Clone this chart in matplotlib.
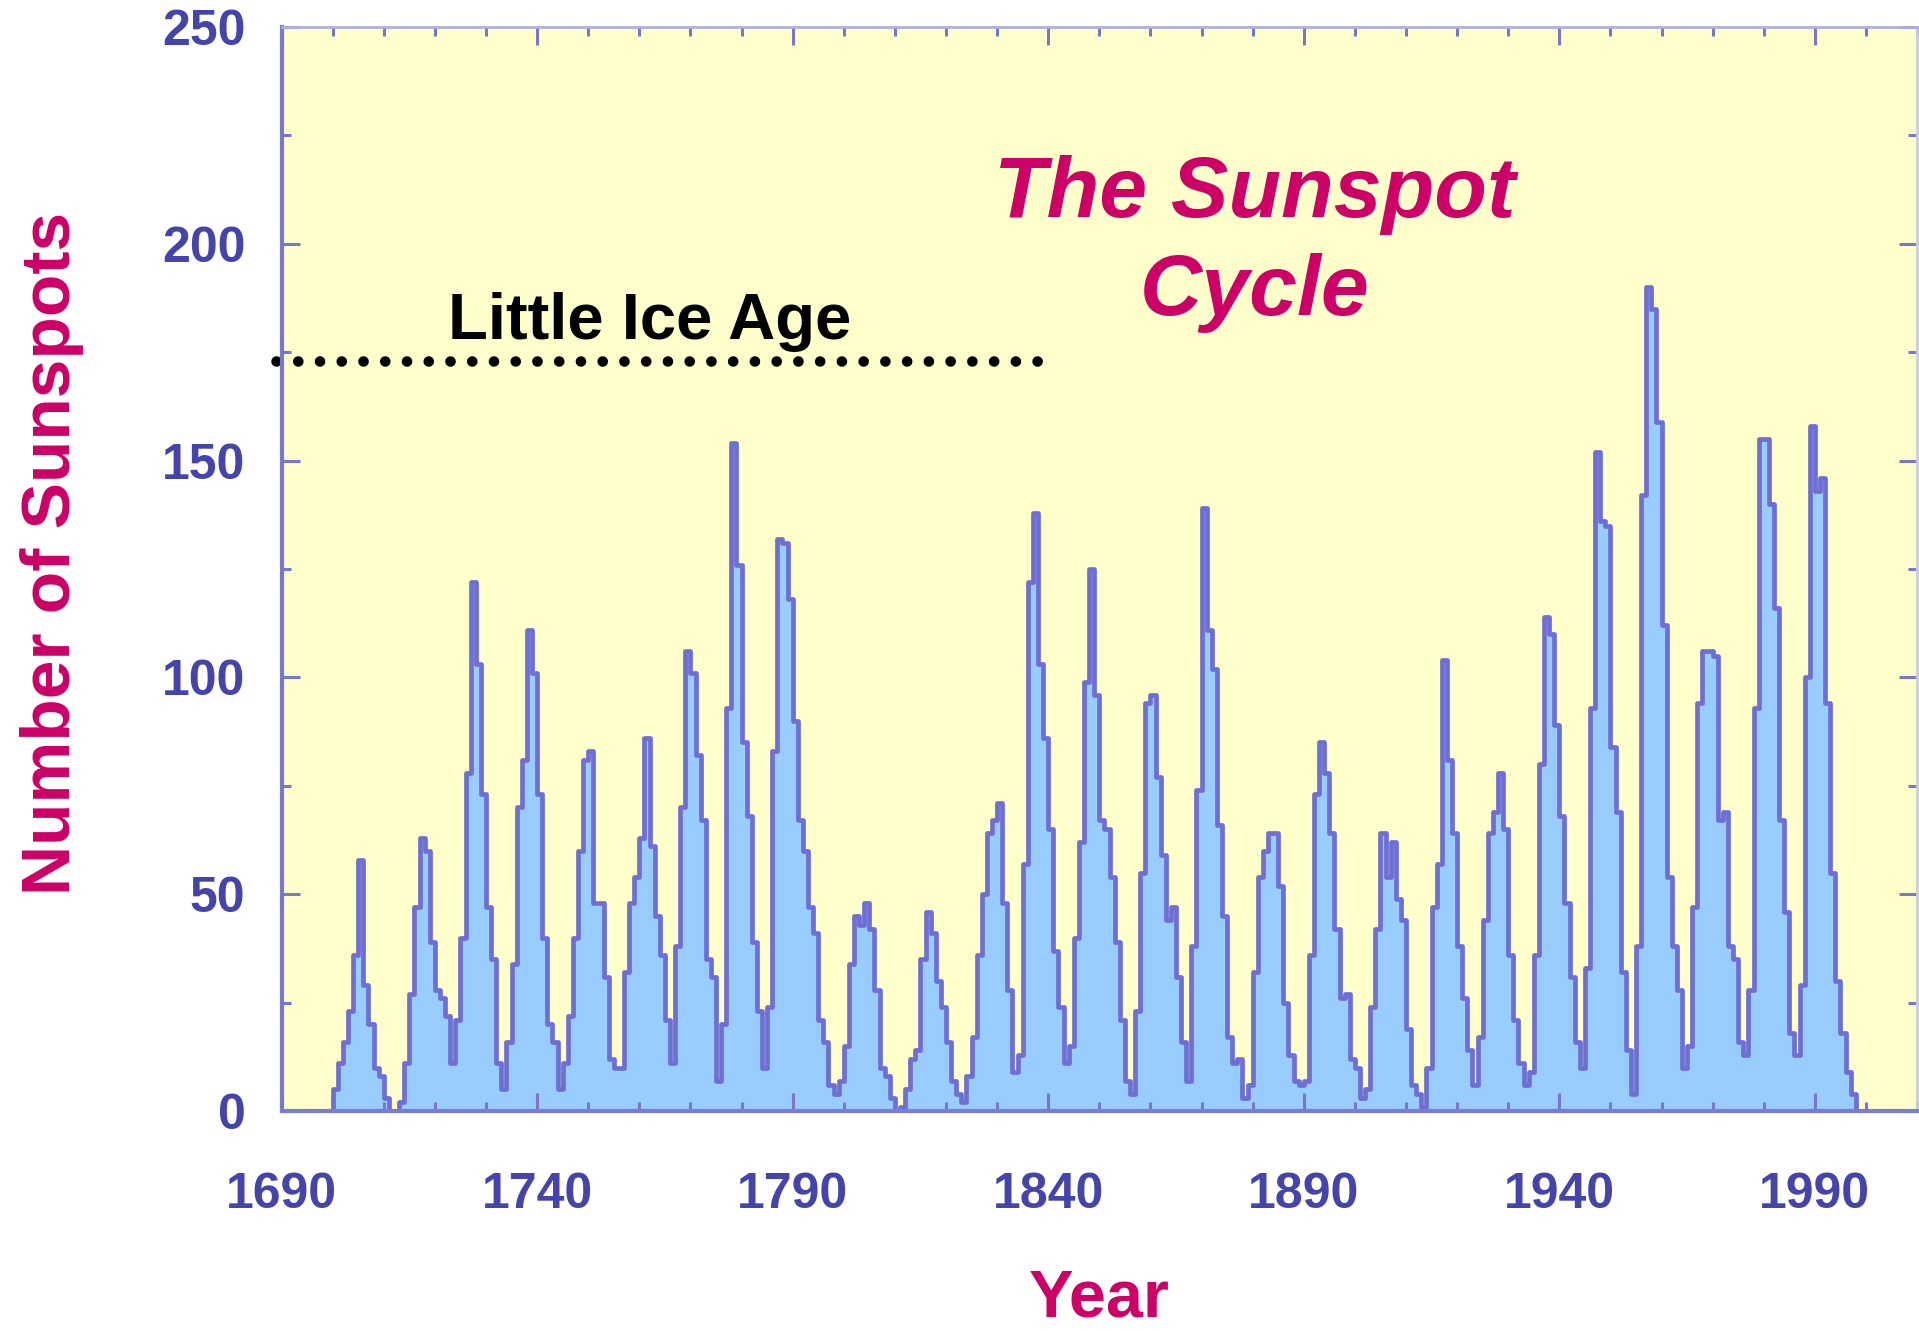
import numpy as np
import matplotlib
matplotlib.use("Agg")
from matplotlib import pyplot as plt
from matplotlib.ticker import MultipleLocator

# yearly mean sunspot numbers, one row per decade, starting 1700
sunspots = [
    5, 11, 16, 23, 36, 58, 29, 20, 10, 8,
    3, 0, 0, 2, 11, 27, 47, 63, 60, 39,
    28, 26, 22, 11, 21, 40, 78, 122, 103, 73,
    47, 35, 11, 5, 16, 34, 70, 81, 111, 101,
    73, 40, 20, 16, 5, 11, 22, 40, 60, 81,
    83, 48, 48, 31, 12, 10, 10, 32, 48, 54,
    63, 86, 61, 45, 36, 21, 11, 38, 70, 106,
    101, 82, 67, 35, 31, 7, 20, 93, 154, 126,
    85, 68, 39, 23, 10, 24, 83, 132, 131, 118,
    90, 67, 60, 47, 41, 21, 16, 6, 4, 7,
    15, 34, 45, 43, 48, 42, 28, 10, 8, 3,
    0, 1, 5, 12, 14, 35, 46, 41, 30, 24,
    16, 7, 4, 2, 8, 17, 36, 50, 64, 67,
    71, 48, 28, 9, 13, 57, 122, 138, 103, 86,
    65, 37, 24, 11, 15, 40, 62, 99, 125, 96,
    67, 65, 54, 39, 21, 7, 4, 23, 55, 94,
    96, 77, 59, 44, 47, 31, 16, 7, 38, 74,
    139, 111, 102, 66, 45, 17, 11, 12, 3, 6,
    32, 54, 60, 64, 64, 52, 25, 13, 7, 6,
    7, 36, 73, 85, 78, 64, 42, 26, 27, 12,
    10, 3, 5, 24, 42, 64, 54, 62, 49, 44,
    19, 6, 4, 1, 10, 47, 57, 104, 81, 64,
    38, 26, 14, 6, 17, 44, 64, 69, 78, 65,
    36, 21, 11, 6, 9, 36, 80, 114, 110, 89,
    68, 48, 31, 16, 10, 33, 93, 152, 136, 135,
    84, 69, 32, 14, 4, 38, 142, 190, 185, 159,
    112, 54, 38, 28, 10, 15, 47, 94, 106, 106,
    105, 67, 69, 38, 35, 16, 13, 28, 93, 155,
    155, 140, 116, 67, 46, 18, 13, 29, 100, 158,
    143, 146, 94, 55, 30, 18, 9, 4,
]
first_year = 1700
years = np.arange(first_year, first_year + len(sunspots))

x_ticks = [1690, 1740, 1790, 1840, 1890, 1940, 1990]
y_ticks = [0, 50, 100, 150, 200, 250]

ice_age_start, ice_age_end = 1689, 1839.5
ice_age_level = 173

magenta = "#cc0066"
label_blue = "#4444aa"
edge_blue = "#6e6ed4"

plt.rcParams["font.family"] = ["Liberation Sans", "DejaVu Sans"]

fig = plt.figure(figsize=(19.19, 13.31), dpi=100)
ax = fig.add_axes([0.1467, 0.1653, 0.8523, 0.8144])
ax.set_facecolor("#ffffcc")

# staircase: close the outline down to zero at both ends
x_edges = np.concatenate([[years[0]], years, [years[-1] + 1]])
y_edges = np.concatenate([[0], sunspots, [0]])
ax.fill_between(x_edges, y_edges, step="post", color="#99ccff", lw=0)
ax.plot(x_edges, y_edges, drawstyle="steps-post", color=edge_blue, lw=3.4)

ax.set_xlim(1690, 2010)
ax.set_ylim(0, 250)
ax.set_xticks(x_ticks)
ax.set_yticks(y_ticks)
ax.xaxis.set_minor_locator(MultipleLocator(10))
ax.yaxis.set_minor_locator(MultipleLocator(25))
ax.tick_params(which="both", direction="in", top=True, right=True,
               color="#7777cc", width=2.2)
ax.tick_params(which="major", length=13, labelsize=36, labelcolor=label_blue)
ax.tick_params(which="minor", length=6.5)
ax.tick_params(axis="x", pad=44)
ax.tick_params(axis="y", pad=26)
for lab in ax.get_xticklabels() + ax.get_yticklabels():
    lab.set_fontweight("bold")

ax.spines["left"].set_color("#7777cc")
ax.spines["bottom"].set_color("#7b7bdb")
ax.spines["top"].set_color("#b0b0e0")
ax.spines["right"].set_color("#ccccdd")
for side in ["left", "bottom"]:
    ax.spines[side].set_linewidth(3)
for side in ["top", "right"]:
    ax.spines[side].set_linewidth(2)

ax.set_ylabel("Number of Sunspots", fontsize=50, fontweight="bold",
              color=magenta)
ax.yaxis.set_label_coords(-0.121, 0.514)
ax.set_xlabel("Year", fontsize=48, fontweight="bold", color=magenta,
              labelpad=36)

ax.text(0.595, 0.80, "The Sunspot\nCycle", transform=ax.transAxes,
        ha="center", va="center", multialignment="center",
        fontsize=62, fontweight="bold", fontstyle="italic",
        color=magenta, linespacing=1.3)

ax.text(1762, 182, "Little Ice Age", ha="center", va="center",
        fontsize=47, fontweight="bold", color="black")
ax.plot([ice_age_start, ice_age_end], [ice_age_level, ice_age_level],
        color="black", lw=7.6, linestyle=(0, (0.01, 2.05)),
        dash_capstyle="round", clip_on=False)

fig.savefig("out.png", dpi=100)
